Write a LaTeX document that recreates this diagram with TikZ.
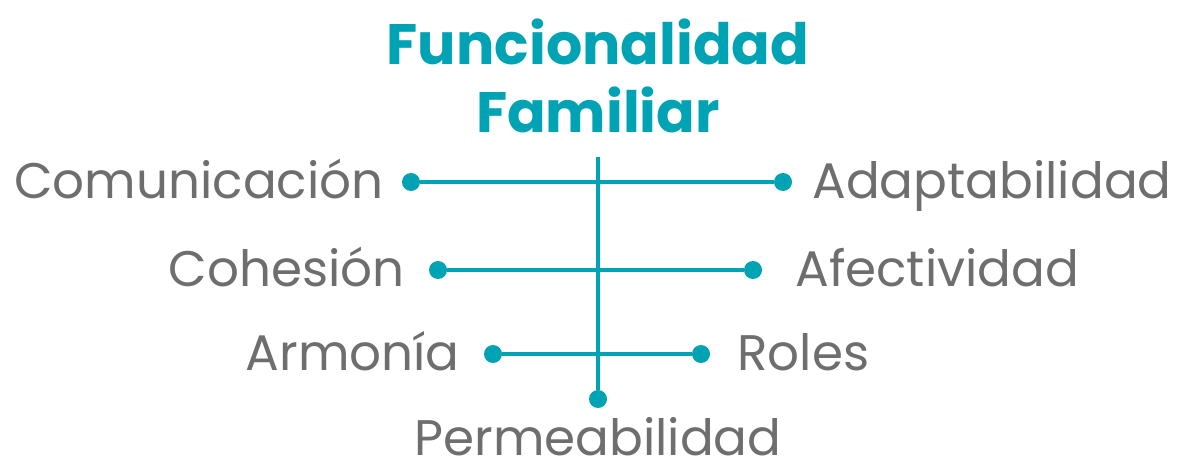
\documentclass[tikz,border=0pt]{standalone}
\usepackage{fontspec}
\setmainfont{Poppins}
\usetikzlibrary{positioning}
\definecolor{turquesa}{HTML}{00A3B4}
\definecolor{gris}{HTML}{6E6E6E}
\tikzstyle{dot} = [circle, fill=turquesa, minimum size=18pt, inner sep=0pt]
\tikzstyle{item} = [text=gris, font=\fontsize{50}{58}\selectfont, inner sep=0pt]
\tikzstyle{line} = [draw=turquesa, line width=4pt]

\begin{document}
\begin{tikzpicture}[x=1pt, y=-1pt]
    \useasboundingbox (0,0) rectangle (1184,462);

    % Title
    \node [text=turquesa, font=\fontsize{57}{68}\bfseries\selectfont, align=center,
        anchor=base, inner sep=0pt] (titulo) at (598,133) {Funcionalidad\\Familiar};

    % Place dots
    \coordinate (arriba) at (598,157);
    \node [dot] (comunicacion) at (411,182) {};
    \node [dot] (adaptabilidad) at (783,182) {};
    \node [dot] (cohesion) at (438,270) {};
    \node [dot] (afectividad) at (753,270) {};
    \node [dot] (armonia) at (493,354) {};
    \node [dot] (roles) at (701,354) {};
    \node [dot] (permeabilidad) at (598,399) {};

    % Place labels
    \node [item, left=18pt of comunicacion, anchor=base east, yshift=-17pt] (tcomunicacion) {Comunicación};
    \node [item, right=20pt of adaptabilidad, anchor=base west, yshift=-17pt] (tadaptabilidad) {Adaptabilidad};
    \node [item, left=24pt of cohesion, anchor=base east, yshift=-17pt] (tcohesion) {Cohesión};
    \node [item, right=33pt of afectividad, anchor=base west, yshift=-17pt] (tafectividad) {Afectividad};
    \node [item, left=24pt of armonia, anchor=base east, yshift=-17pt] (tarmonia) {Armonía};
    \node [item, right=27pt of roles, anchor=base west, yshift=-17pt] (troles) {Roles};
    \node [item, below=21pt of permeabilidad, anchor=base, yshift=-26pt] (tpermeabilidad) {Permeabilidad};

    % Draw edges
    \path [line] (arriba) -- (permeabilidad);
    \path [line] (comunicacion) -- (adaptabilidad);
    \path [line] (cohesion) -- (afectividad);
    \path [line] (armonia) -- (roles);
\end{tikzpicture}
\end{document}
